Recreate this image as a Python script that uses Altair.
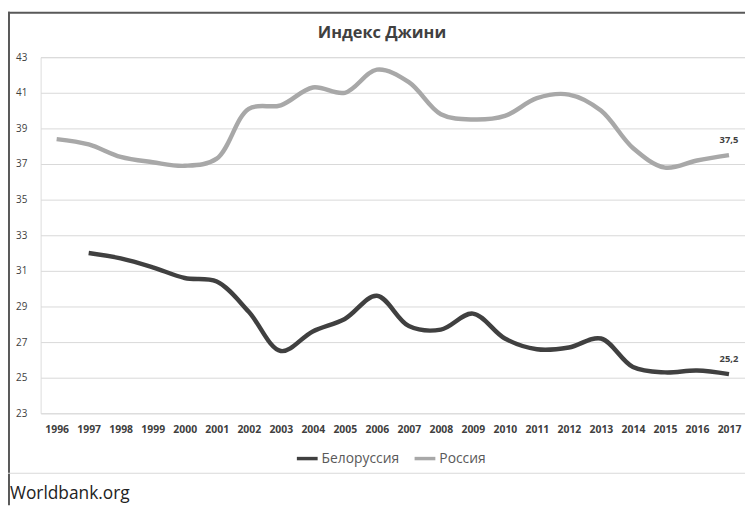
import altair as alt
import pandas as pd

years = list(range(1996, 2018))
russia = [38.4, 38.1, 37.4, 37.1, 36.9, 37.3, 40.1, 40.3, 41.3, 41.0, 42.3,
          41.6, 39.8, 39.5, 39.7, 40.7, 40.9, 40.0, 37.9, 36.8, 37.2, 37.5]
belarus_years = list(range(1997, 2018))
belarus = [32.0, 31.7, 31.2, 30.6, 30.4, 28.7, 26.5, 27.6, 28.3, 29.6, 27.9,
           27.7, 28.6, 27.2, 26.6, 26.7, 27.2, 25.6, 25.3, 25.4, 25.2]
series_names = ["Белоруссия", "Россия"]
series_colors = ["#404040", "#a8a8a8"]
y_ticks = [23, 25, 27, 29, 31, 33, 35, 37, 39, 41, 43]
title_text = "Индекс Джини"
source_text = "Worldbank.org"

rows = [{"year": y, "value": v, "series": series_names[0]} for y, v in zip(belarus_years, belarus)]
rows += [{"year": y, "value": v, "series": series_names[1]} for y, v in zip(years, russia)]
df = pd.DataFrame(rows)
last = df[df["year"] == 2017].copy()
last["label"] = last["value"].map(lambda v: f"{v:.1f}".replace(".", ","))

FONT = "Open Sans"

x = alt.X("year:Q", scale=alt.Scale(domain=[1995.5, 2017.5], nice=False, zero=False),
          axis=alt.Axis(values=years, tickCount=len(years), format="d", title=None,
                        grid=False, domain=False, ticks=False, labelFontWeight="bold",
                        labelFontSize=10.5, labelColor="#404040", labelPadding=11,
                        labelFont=FONT, labelOverlap=False))
y = alt.Y("value:Q", scale=alt.Scale(domain=[23, 43], nice=False, zero=False),
          axis=alt.Axis(values=y_ticks, tickCount=len(y_ticks), title=None, domain=False,
                        ticks=False, gridColor="#d9d9d9", gridWidth=1, labelFontSize=10,
                        labelColor="#404040", labelPadding=14, labelFont=FONT,
                        labelOverlap=False))

color = alt.Color("series:N", scale=alt.Scale(domain=series_names, range=series_colors),
                  legend=alt.Legend(title=None, orient="none", direction="horizontal",
                                    legendX=257, legendY=393, labelFontSize=14,
                                    labelColor="#595959", labelFont=FONT,
                                    symbolType="stroke", symbolSize=441,
                                    symbolStrokeWidth=3.5, labelOffset=2,
                                    columnPadding=8, padding=0))

one = pd.DataFrame({"a": [0]})
frame_top = alt.Chart(one).mark_rect(color="#595959").encode(
    x=alt.value(-33), x2=alt.value(712), y=alt.value(-46), y2=alt.value(-44))
frame_left = alt.Chart(one).mark_rect(color="#595959").encode(
    x=alt.value(-33), x2=alt.value(-31), y=alt.value(-46), y2=alt.value(453))
frame_bottom = alt.Chart(one).mark_rect(color="#d9d9d9").encode(
    x=alt.value(-33), x2=alt.value(712), y=alt.value(420), y2=alt.value(421))

lines = alt.Chart(df).mark_line(interpolate="catmull-rom", strokeWidth=4.5).encode(
    x=x, y=y, color=color)

labels = alt.Chart(last).mark_text(font=FONT, fontSize=9.5, fontWeight="bold",
                                   color="#404040", dy=-15).encode(
    x=alt.X("year:Q"), y=alt.Y("value:Q"), text="label:N")

title = alt.Chart(pd.DataFrame({"t": [title_text]})).mark_text(
    font=FONT, fontSize=16.5, fontWeight="bold", color="#404040", baseline="alphabetic"
).encode(x=alt.value(345), y=alt.value(-19), text="t:N")

source = alt.Chart(pd.DataFrame({"t": [source_text]})).mark_text(
    font=FONT, fontSize=17.5, color="#222222", align="left", baseline="alphabetic"
).encode(x=alt.value(-31), y=alt.value(447), text="t:N")

chart = alt.layer(frame_top, frame_left, frame_bottom, lines, labels, title, source).properties(
    width=712, height=360,
    autosize=alt.AutoSizeParams(type="none"),
    padding={"left": 33, "top": 47, "right": 0, "bottom": 93},
).configure_view(stroke=None).configure(background="white")

chart.save("out.html", embed_options={"renderer": "svg", "actions": False})
